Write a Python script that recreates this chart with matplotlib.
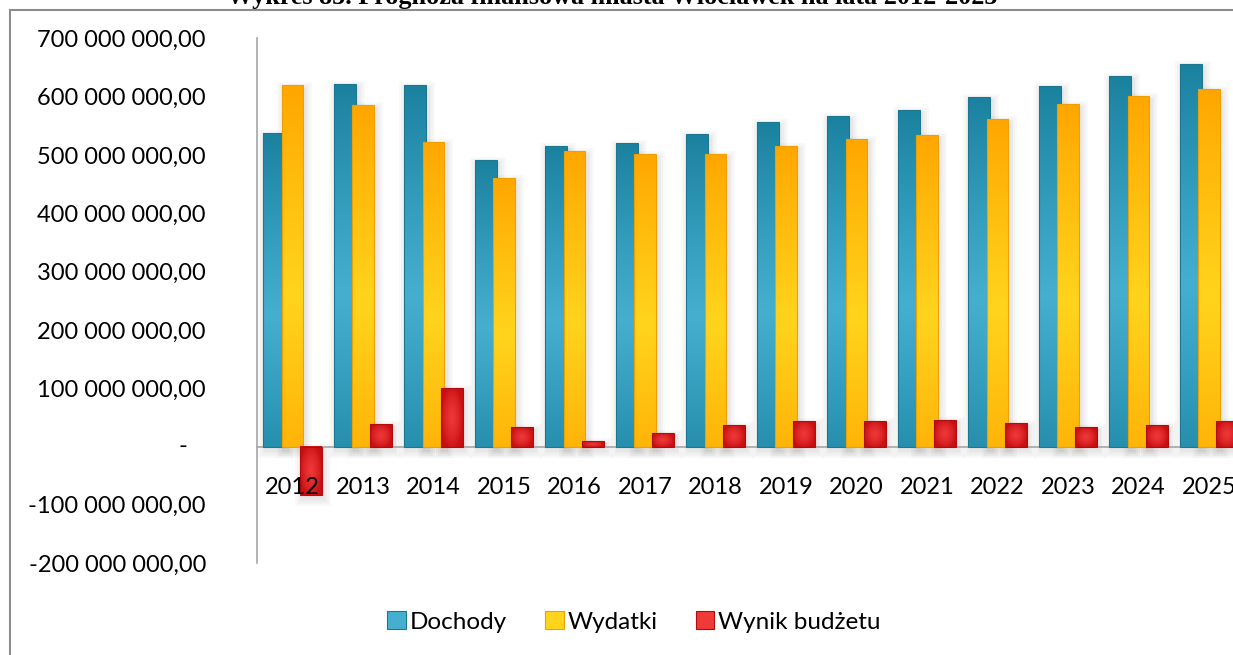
import matplotlib.pyplot as plt
import numpy as np
from matplotlib.patches import Rectangle, Patch
from matplotlib.colors import to_rgb

# Prognoza finansowa 2012-2025 (zł)
years = ["2012", "2013", "2014", "2015", "2016", "2017", "2018",
         "2019", "2020", "2021", "2022", "2023", "2024", "2025"]
dochody = [538e6, 622e6, 620e6, 492e6, 516e6, 521e6, 536e6,
           557e6, 567e6, 578e6, 600e6, 618e6, 636e6, 656e6]
wydatki = [620e6, 585e6, 523e6, 461e6, 507e6, 501e6, 501e6,
           516e6, 527e6, 534e6, 562e6, 587e6, 602e6, 613e6]
wynik = [-83e6, 39e6, 100e6, 34e6, 10e6, 23e6, 37e6,
         43e6, 44e6, 46e6, 41e6, 34e6, 37e6, 44e6]
series_names = ["Dochody", "Wydatki", "Wynik budżetu"]
yticks = np.arange(-200e6, 700e6 + 1, 100e6)

plt.rcParams['font.family'] = ['Lato', 'DejaVu Sans']

W, H = 1233, 655
fig = plt.figure(figsize=(W / 100, H / 100), dpi=100)

# plot area in pixels: left edge, category width, top/bottom of value axis
ax_left, cat_w = 257.3, 70.5
y_top, y_bot = 38.4, 563.1
ax = fig.add_axes([ax_left / W, 1 - y_bot / H, 14 * cat_w / W, (y_bot - y_top) / H])

px_x = 1 / cat_w
px_y = 900e6 / (y_bot - y_top)

# (dark, light, edge) colours for each series
palettes = [
    ("#1a819f", "#46afd0", "#1d7790"),
    ("#ffa600", "#ffd41c", "#eea000"),
    ("#c80f12", "#f03a3a", "#b00d10"),
]
offsets = [-0.26, 0.0, 0.26]
bar_w = 0.31


def vertical_gradient(dark, light, n=64):
    t = np.linspace(0, 1, n)[:, None]  # 0 = top row of the image
    w = np.clip(1 - np.abs(t - 0.58) / 0.58, 0, 1) ** 0.9
    d, l = np.array(to_rgb(dark)), np.array(to_rgb(light))
    return (d * (1 - w) + l * w)[:, None, :]


def radial_gradient(dark, light, n=48):
    u = np.linspace(-1, 1, n)
    xx, yy = np.meshgrid(u, u)
    w = np.clip(1 - np.sqrt(xx ** 2 + (yy / 1.1) ** 2), 0, 1) ** 0.7
    d, l = np.array(to_rgb(dark)), np.array(to_rgb(light))
    return d * (1 - w[..., None]) + l * w[..., None]


x = np.arange(len(years))
for s, (vals, off, (dark, light, edge)) in enumerate(zip([dochody, wydatki, wynik], offsets, palettes)):
    z = 2 + s
    for xi, v in zip(x, vals):
        x0 = xi + off - bar_w / 2
        y0, y1 = min(0, v), max(0, v)
        # soft drop shadow
        for e in [7, 5, 3, 1.5]:
            ax.add_patch(Rectangle((x0 + 2 * px_x - e * px_x, y0 - 4 * px_y - e * px_y),
                                   bar_w + 2 * e * px_x, (y1 - y0) + 2 * e * px_y,
                                   facecolor="black", edgecolor="none", alpha=0.025, zorder=1))
        img = radial_gradient(dark, light) if s == 2 else vertical_gradient(dark, light)
        ax.imshow(img, extent=(x0, x0 + bar_w, y0, y1), aspect="auto",
                  interpolation="bicubic", zorder=z)
        ax.add_patch(Rectangle((x0, y0), bar_w, y1 - y0, facecolor="none",
                               edgecolor=edge, linewidth=0.8, zorder=z + 0.1))

ax.set_xlim(-0.5, 13.5)
ax.set_ylim(-200e6, 700e6)

for side in ["top", "right"]:
    ax.spines[side].set_visible(False)
ax.spines["left"].set_color("#a6a6a6")
ax.spines["left"].set_linewidth(1.2)
ax.spines["bottom"].set_position(("data", 0))
ax.spines["bottom"].set_color("#a6a6a6")
ax.spines["bottom"].set_linewidth(1.2)
ax.spines["bottom"].set_zorder(1.5)


def pl_fmt(v, pos=None):
    if abs(v) < 1:
        return ""
    return f"{v:,.2f}".replace(",", " ").replace(".", ",")


ax.set_yticks(yticks)
ax.yaxis.set_major_formatter(plt.FuncFormatter(pl_fmt))
ax.tick_params(axis="y", length=0, pad=37, labelsize=17)
ax.set_xticks(x)
ax.set_xticklabels(years)
ax.tick_params(axis="x", length=0, pad=22, labelsize=17)
# year labels sit in front of the bars
ax.xaxis.set_zorder(10)

# zero on the value axis is shown as a dash
fig.text(183 / W, 1 - 446.5 / H, "-", fontsize=17, ha="center", va="center")

# chart border (top and left edges visible)
fig.patches.append(Rectangle((10 / W, -0.2), 1.2, 1.2 - 10 / H, transform=fig.transFigure,
                             facecolor="none", edgecolor="#8c8c8c", linewidth=1.5))

fig.text(612 / W, 1 - 4 / H, "Wykres 85. Prognoza finansowa miasta Włocławek na lata 2012-2025",
         fontfamily="Liberation Serif", fontweight="bold", fontsize=18.8,
         ha="center", va="baseline")

handles = [Patch(facecolor=p[1], edgecolor=p[2], linewidth=0.8) for p in palettes]
fig.legend(handles, series_names, loc="center", bbox_to_anchor=(634 / W, 1 - 622 / H),
           ncol=3, frameon=False, fontsize=17.5, handlelength=0.75, handleheight=0.75,
           handletextpad=0.15, columnspacing=1.6)

fig.savefig("out.png", dpi=100)
